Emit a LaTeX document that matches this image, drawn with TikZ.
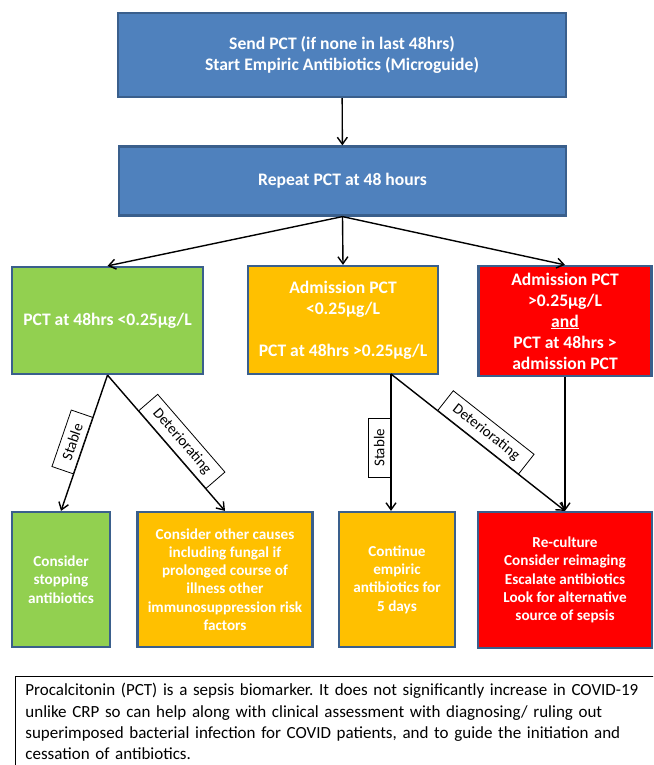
\documentclass[tikz,border=0pt]{standalone}
\usepackage{fontspec}
\setmainfont{Carlito}
\usepackage{xcolor}
\definecolor{pblue}{HTML}{4F81BD}
\definecolor{pedge}{HTML}{3A5F8C}
\definecolor{pgreen}{HTML}{92D050}
\definecolor{pamber}{HTML}{FFC000}
\definecolor{pred}{HTML}{FF0000}
\usetikzlibrary{arrows.meta,positioning,calc}
\frenchspacing

\begin{document}
\begin{tikzpicture}[x=1pt,y=-1pt,
  box/.style={rectangle,draw=pedge,line width=2.2pt,inner sep=2pt,align=center,
              text=white,font=\fontsize{17.6}{21}\selectfont\bfseries},
  act/.style={box,font=\fontsize{15.2}{18.3}\selectfont\bfseries},
  lbl/.style={rectangle,draw=black,fill=white,line width=0.8pt,
              font=\fontsize{15}{17}\selectfont,inner xsep=11pt,inner ysep=6pt},
  flow/.style={-{Straight Barb[length=7pt,width=10pt]},line width=1.4pt}]
\useasboundingbox (0,0) rectangle (653,765);
\clip (0,0) rectangle (653,765);
\node[box,fill=pblue,minimum width=448pt,minimum height=84pt] (send) at (342,55)
  {Send PCT (if none in last 48hrs)\\Start Empiric Antibiotics (Microguide)};
\node[box,fill=pblue,minimum width=447pt,minimum height=69pt] (rep) at (342.5,181)
  {Repeat PCT at 48 hours};
\node[box,fill=pgreen,minimum width=191pt,minimum height=107pt] (lo) at (107.5,320.5)
  {PCT at 48hrs <0.25µg/L};
\node[box,fill=pamber,minimum width=190pt,minimum height=108pt] (mid) at (343,320)
  {Admission PCT\\<0.25µg/L\\[21pt]PCT at 48hrs >0.25µg/L};
\node[box,fill=pred,minimum width=173pt,minimum height=110pt] (hi) at (565,321)
  {Admission PCT\\>0.25µg/L\\\underline{and}\\PCT at 48hrs >\\admission PCT};
\node[act,fill=pgreen,minimum width=98pt,minimum height=135pt] (stop) at (61,579.5)
  {Consider\\stopping\\antibiotics};
\node[act,fill=pamber,minimum width=175pt,minimum height=135pt] (other) at (225,579.5)
  {Consider other causes\\including fungal if\\prolonged course of\\illness other\\immunosuppression risk\\factors};
\node[act,fill=pamber,minimum width=116pt,minimum height=135pt] (cont) at (397,579.5)
  {Continue\\empiric\\antibiotics for\\5 days};
\node[act,fill=pred,minimum width=174pt,minimum height=136pt] (escal) at (565,580)
  {Re-culture\\Consider reimaging\\Escalate antibiotics\\Look for alternative\\source of sepsis};
\node[draw,line width=0.8pt,anchor=north west,align=left,text width=640pt,
      inner xsep=10pt,inner ysep=7pt,font=\fontsize{17}{21.2}\selectfont] (note) at (15,676)
  {Procalcitonin (PCT) is a sepsis biomarker. It does not significantly increase in COVID-19\\
   unlike CRP so can help along with clinical assessment with diagnosing/ ruling out\\
   superimposed bacterial infection for COVID patients, and to guide the initiation and\\
   cessation of antibiotics.};
\coordinate (split) at (391,374);
\draw[flow] (send) -- (rep);
\draw[flow] (rep.south) -- (lo.north);
\draw[flow] (rep.south) -- (mid.north);
\draw[flow] (rep.south) -- (hi.north);
\draw[flow] (lo.south) -- node[lbl,sloped,above,pos=.52]{Stable} (stop.north);
\draw[flow] (lo.south) -- node[lbl,sloped,above,pos=.55]{Deteriorating} (other.north);
\draw[flow] (split) -- node[lbl,rotate=90,anchor=south,pos=.54]{Stable} (split |- cont.north);
\draw[flow] (split) -- node[lbl,sloped,above,pos=.5]{Deteriorating} (escal.north);
\draw[flow] (hi) -- (escal);
\end{tikzpicture}
\end{document}
